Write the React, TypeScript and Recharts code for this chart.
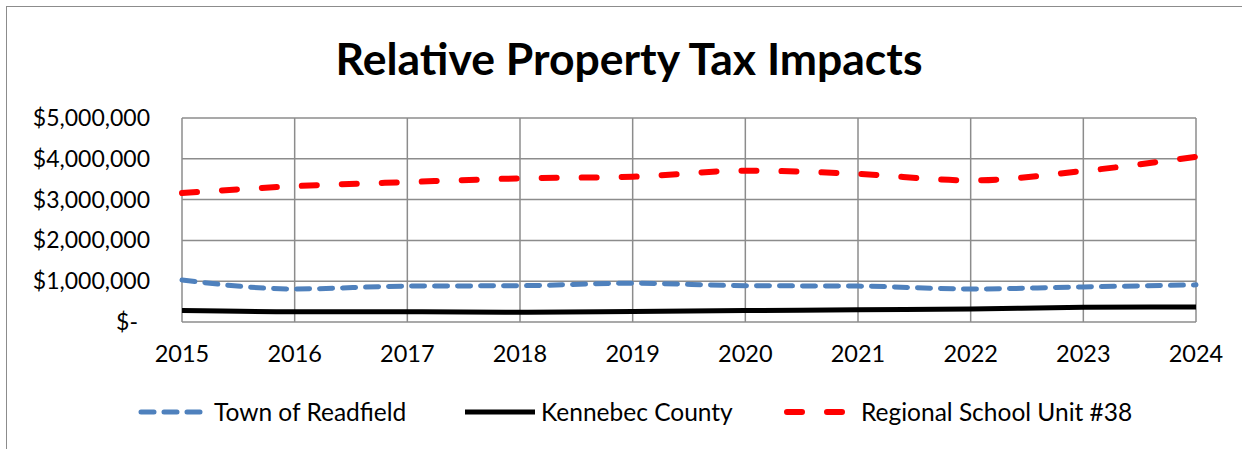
import React from "react";
import { LineChart, Line, XAxis, YAxis, CartesianGrid } from "recharts";

const years = ["2015", "2016", "2017", "2018", "2019", "2020", "2021", "2022", "2023", "2024"];
const town = [1030000, 810000, 880000, 890000, 950000, 890000, 880000, 810000, 860000, 910000];
const county = [280000, 250000, 250000, 240000, 260000, 280000, 300000, 320000, 360000, 370000];
const rsu = [3160000, 3330000, 3430000, 3520000, 3560000, 3710000, 3630000, 3470000, 3700000, 4050000];
const yTicks = [0, 1000000, 2000000, 3000000, 4000000, 5000000];
const seriesNames = ["Town of Readfield", "Kennebec County", "Regional School Unit #38"];

const data = years.map((y, i) => ({ year: y, town: town[i], county: county[i], rsu: rsu[i] }));

const FONT = "Lato, 'Open Sans', sans-serif";

const fmt = (v: number) => (v === 0 ? "$-" : "$" + v.toLocaleString("en-US"));

const YTick = (props: any) => {
  const { x, y, payload } = props;
  const v = payload.value;
  return (
    <text x={x + (v === 0 ? -12 : 0)} y={y} dy="0.35em" textAnchor="end" fontSize={23} fontFamily={FONT} fill="#000">
      {fmt(v)}
    </text>
  );
};

const XTick = (props: any) => {
  const { x, y, payload } = props;
  return (
    <text x={x} y={y} dy="0.71em" textAnchor="middle" fontSize={23.5} fontFamily={FONT} fill="#000">
      {payload.value}
    </text>
  );
};

export default function App() {
  return (
    <div style={{ position: "absolute", left: 0, top: 0, width: 1242, height: 449, background: "#fff", overflow: "hidden" }}>
      <div
        style={{
          position: "absolute",
          left: 6,
          top: 6,
          width: 1260,
          height: 460,
          border: "1.5px solid #8c8c8c",
          boxSizing: "border-box",
        }}
      />
      <div
        style={{
          position: "absolute",
          left: 0,
          width: 1258,
          top: 28,
          textAlign: "center",
          fontFamily: FONT,
          fontWeight: 700,
          fontSize: 44.5,
          lineHeight: "60px",
          color: "#000",
        }}
      >
        Relative Property Tax Impacts
      </div>
      <div style={{ position: "absolute", left: 0, top: 0 }}>
        <LineChart width={1242} height={449} data={data} margin={{ top: 118, right: 46, bottom: 97, left: 0 }}>
          <CartesianGrid stroke="#8c8c8c" strokeWidth={1.5} horizontal vertical />
          <XAxis
            dataKey="year"
            axisLine={false}
            tickLine={false}
            tickSize={0}
            tickMargin={23}
            height={30}
            tick={<XTick />}
            interval={0}
          />
          <YAxis
            width={182}
            domain={[0, 5000000]}
            ticks={yTicks}
            axisLine={false}
            tickLine={false}
            tickSize={0}
            tickMargin={32}
            tick={<YTick />}
            interval={0}
          />
          <Line
            type="monotone"
            dataKey="county"
            stroke="#000000"
            strokeWidth={5}
            dot={false}
            isAnimationActive={false}
          />
          <Line
            type="monotone"
            dataKey="town"
            stroke="#4F81BD"
            strokeWidth={5}
            strokeDasharray="13 10"
            strokeLinecap="round"
            dot={false}
            isAnimationActive={false}
          />
          <Line
            type="monotone"
            dataKey="rsu"
            stroke="#FF0000"
            strokeWidth={6}
            strokeDasharray="15 25"
            strokeLinecap="round"
            dot={false}
            isAnimationActive={false}
          />
        </LineChart>
      </div>
      <svg style={{ position: "absolute", left: 0, top: 0 }} width={1242} height={449}>
        <line x1={141} y1={412} x2={200} y2={412} stroke="#4F81BD" strokeWidth={5} strokeDasharray="13 10" strokeLinecap="round" />
        <text x={214} y={412} dy="0.35em" fontSize={24.5} fontFamily={FONT} fill="#000">{seriesNames[0]}</text>
        <line x1={465} y1={412} x2={535} y2={412} stroke="#000" strokeWidth={5} />
        <text x={541} y={412} dy="0.35em" fontSize={24.5} fontFamily={FONT} fill="#000">{seriesNames[1]}</text>
        <line x1={787} y1={412} x2={843} y2={412} stroke="#FF0000" strokeWidth={6} strokeDasharray="15 25" strokeLinecap="round" />
        <text x={861} y={412} dy="0.35em" fontSize={24.5} fontFamily={FONT} fill="#000">{seriesNames[2]}</text>
      </svg>
    </div>
  );
}
